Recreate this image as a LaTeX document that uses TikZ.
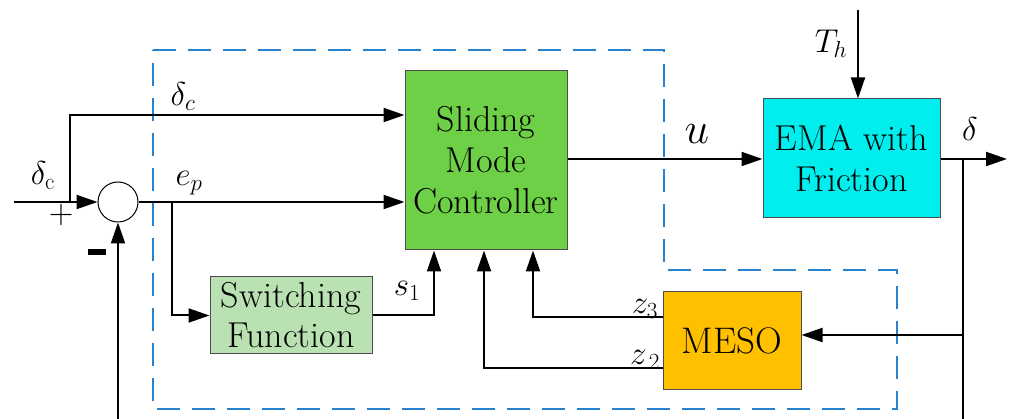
\RequirePackage{fix-cm}
\documentclass[tikz,border=0pt]{standalone}
\usetikzlibrary{arrows.meta}
\definecolor{smcgreen}{RGB}{109,208,70}
\definecolor{swgreen}{RGB}{185,225,178}
\definecolor{emacyan}{RGB}{0,238,238}
\definecolor{mesoorange}{RGB}{255,192,0}
\definecolor{dashblue}{RGB}{40,130,205}
\tikzset{
  blk/.style={draw=black!70, line width=1pt, align=center, inner sep=0pt,
    font=\fontsize{36}{41}\selectfont},
  sig/.style={line width=2pt, -{Triangle[length=21pt,width=14pt]}},
  wire/.style={line width=2pt},
  tag/.style={font=\fontsize{33}{33}\selectfont, inner sep=0pt},
  region/.style={dashblue, line width=2pt, dash pattern=on 23pt off 12pt}
}
\begin{document}
\begin{tikzpicture}[x=1pt,y=-1pt]
\useasboundingbox (0,0) rectangle (1010,419);

% controller region
\draw[region] (153,50) -- (664,50) -- (664,270) -- (897,270) -- (897,409) -- (153,409) -- cycle;

% blocks
\node[blk, fill=smcgreen, minimum width=162pt, minimum height=179pt] (smc) at (486,160.5) {Sliding\\Mode\\Controller};
\node[blk, fill=emacyan, minimum width=177pt, minimum height=119pt] (ema) at (851.5,158.5) {EMA with\\Friction};
\node[blk, fill=swgreen, minimum width=162pt, minimum height=77pt, font=\fontsize{36}{40}\selectfont] (sw) at (291,315.5) {Switching\\Function};
\node[blk, fill=mesoorange, minimum width=138pt, minimum height=98pt, font=\fontsize{37}{40}\selectfont] (meso) at (732,341) {MESO};
\node[draw, circle, line width=1pt, minimum size=40pt, inner sep=0pt] (sum) at (118,202) {};

% junction points
\coordinate (in) at (14,202);
\coordinate (brc) at (70,202);
\coordinate (bre) at (172,202);
\coordinate (fbl) at (118,419);
\coordinate (thin) at (858,10);
\coordinate (out) at (1007,159);
\coordinate (bro) at (963,159);
\coordinate (fbr) at (963,419);
\coordinate (mesoin) at (963,335);

% signal paths
\draw[sig] (in) -- (sum.west);
\draw[sig] (brc) |- (smc.west |- 0,115);
\draw[sig] (sum.east) -- (smc.west |- sum.east);
\draw[sig] (bre) |- (sw.west);
\draw[sig] (fbl) -- (sum.south);
\draw[sig] (smc.east |- 0,159) -- (ema.west |- 0,159);
\draw[sig] (thin) -- (ema.north -| thin);
\draw[sig] (ema.east |- out) -- (out);
\draw[wire] (bro) -- (fbr);
\draw[sig] (mesoin) -- (meso.east |- mesoin);
\draw[sig] (sw.east) -| (smc.south -| 434,0);
\draw[sig] (meso.west |- 0,317) -| (smc.south -| 533,0);
\draw[sig] (meso.west |- 0,368) -| (smc.south -| 484,0);

% labels
\node[tag] (lin) at (43,176) {$\delta_{\mathrm{c}}$};
\node[tag, font=\fontsize{34}{34}\selectfont] (plus) at (61,215) {$+$};
\node[fill=black, minimum width=18pt, minimum height=6pt, inner sep=0pt] (minus) at (97,252.5) {};
\node[tag] (ldc) at (183,97) {$\delta_c$};
\node[tag] (lep) at (189,183) {$e_p$};
\node[tag, font=\fontsize{44}{44}\selectfont] (lu) at (697,134) {$u$};
\node[tag] (lth) at (831,44) {$T_h$};
\node[tag] (ld) at (970,129) {$\delta$};
\node[tag] (ls) at (407,291) {$s_1$};
\node[tag] (lz3) at (645,309) {$z_3$};
\node[tag] (lz2) at (645,360) {$z_{\,2}$};
\end{tikzpicture}
\end{document}
